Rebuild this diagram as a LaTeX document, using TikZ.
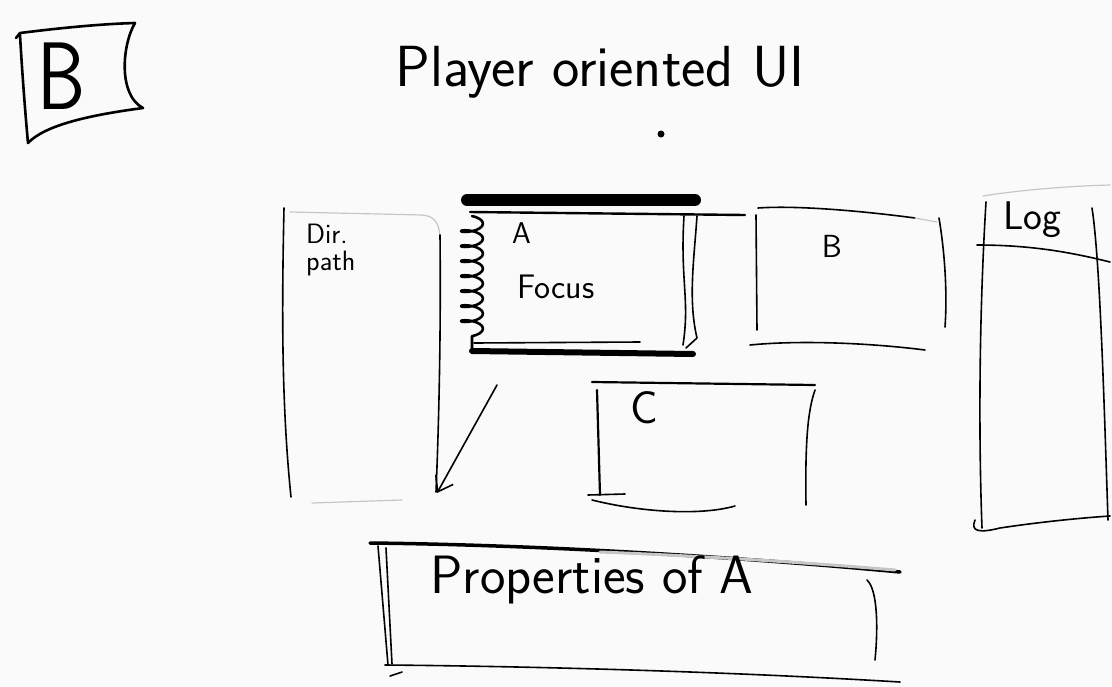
\documentclass[tikz,border=0pt]{standalone}
\usetikzlibrary{arrows.meta, calc, positioning, decorations.pathmorphing}

\tikzset{
  pen/.style={line width=1.6pt, line cap=round, line join=round},
  heavy/.style={line width=#1, line cap=round},
  faint/.style={gray!45, line width=1.2pt, line cap=round},
  hand/.style={font=\sffamily\fontsize{#1}{#1}\selectfont, inner sep=0pt},
}

\begin{document}
\begin{tikzpicture}[x=1pt, y=-1pt]

% Paper
\useasboundingbox[fill=gray!4] (0,0) rectangle (1112,686);

% Variant tag in the corner
\draw[pen, line width=2.6pt] (16,38) -- (20,33) .. controls (60,28) and (100,24) .. (135,23)
  .. controls (122,45) and (118,95) .. (143,108)
  .. controls (90,115) and (45,125) .. (28,143)
  .. controls (25,110) and (22,70) .. (20,35);
\node[hand=96, xscale=0.8] (tag) at (62,76) {B};

% Title
\node[hand=58] (title) at (600,72) {Player oriented UI};
\fill (661,134) circle (3.5pt);

% Dir. path panel
\draw[pen] (284,208) .. controls (282,300) and (281,400) .. (291,497);
\draw[faint] (290,212) -- (422,215) .. controls (436,216) and (440,225) .. (440,240);
\draw[pen] (440,235) .. controls (441,330) and (439,420) .. (436,492);
\draw[faint] (312,503) -- (402,500);
\node[hand=28, anchor=west] (dirtxt) at (306,234) {Dir.};
\node[hand=28, anchor=west] (pathtxt) at (306,264) {path};

% A / Focus box
\draw[heavy=12pt] (467,200) -- (695,200);
\draw[pen, line width=2.4pt] (470,212) -- (745,215);
\draw[pen, line width=2.6pt, decorate,
      decoration={coil, amplitude=11pt, segment length=15pt, aspect=0.35}]
  (472,216) -- (472,350);
\draw[heavy=6pt] (472,351) -- (693,354);
\draw[pen] (474,343) -- (640,342);
\draw[pen] (684,216) .. controls (680,280) and (690,300) .. (683,345);
\draw[pen] (697,216) .. controls (694,260) and (688,300) .. (697,338) -- (686,348);
\node[hand=30, anchor=west] (atxt) at (512,233) {A};
\node[hand=34, anchor=west] (focus) at (517,287) {Focus};

% B box
\draw[pen] (758,208) .. controls (800,205) and (870,212) .. (915,218);
\draw[faint] (915,218) -- (937,222);
\draw[pen] (756,215) -- (757,330);
\draw[pen] (939,218) .. controls (946,260) and (947,300) .. (945,327);
\draw[pen] (750,345) .. controls (800,340) and (870,343) .. (925,350);
\node[hand=32] (btxt) at (832,246) {B};

% Log panel
\draw[faint] (983,196) .. controls (1020,190) and (1070,186) .. (1110,185);
\draw[pen] (986,202) .. controls (980,300) and (978,420) .. (982,528);
\draw[pen] (975,520) .. controls (970,532) and (980,533) .. (1000,528)
  .. controls (1040,522) and (1080,518) .. (1110,516);
\draw[pen] (1092,208) .. controls (1100,260) and (1104,400) .. (1108,520);
\draw[pen] (977,245) .. controls (1030,245) and (1070,252) .. (1110,262);
\node[hand=40] (logtxt) at (1032,220) {Log};

% C box
\draw[pen, line width=2.2pt] (592,382) -- (815,385);
\draw[pen, line width=2.2pt] (597,390) -- (600,495);
\draw[pen] (815,390) .. controls (808,410) and (805,440) .. (806,505);
\draw[pen] (588,495) -- (625,494);
\draw[pen] (592,500) .. controls (640,512) and (700,516) .. (735,506);
\node[hand=46] (ctxt) at (644,408) {C};

% Properties box
\draw[heavy=3.5pt] (370,543) .. controls (550,545) and (750,558) .. (900,572);
\draw[faint, line width=3pt] (600,552) .. controls (700,556) and (800,562) .. (895,570);
\draw[pen] (378,546) -- (388,665);
\draw[pen] (386,548) -- (392,664);
\draw[pen] (867,580) .. controls (878,590) and (878,630) .. (875,660);
\draw[pen] (385,665) .. controls (500,666) and (700,670) .. (900,682);
\draw[pen] (390,676) -- (402,672);
\node[hand=54] (props) at (592,580) {Properties of A};

% Arrow from the focus down to the properties
\coordinate (fromfocus) at (497,385);
\coordinate (toprops) at (437,493);
\draw[pen, -{Straight Barb[length=14pt, width=20pt]}] (fromfocus) -- (toprops);

\end{tikzpicture}
\end{document}
